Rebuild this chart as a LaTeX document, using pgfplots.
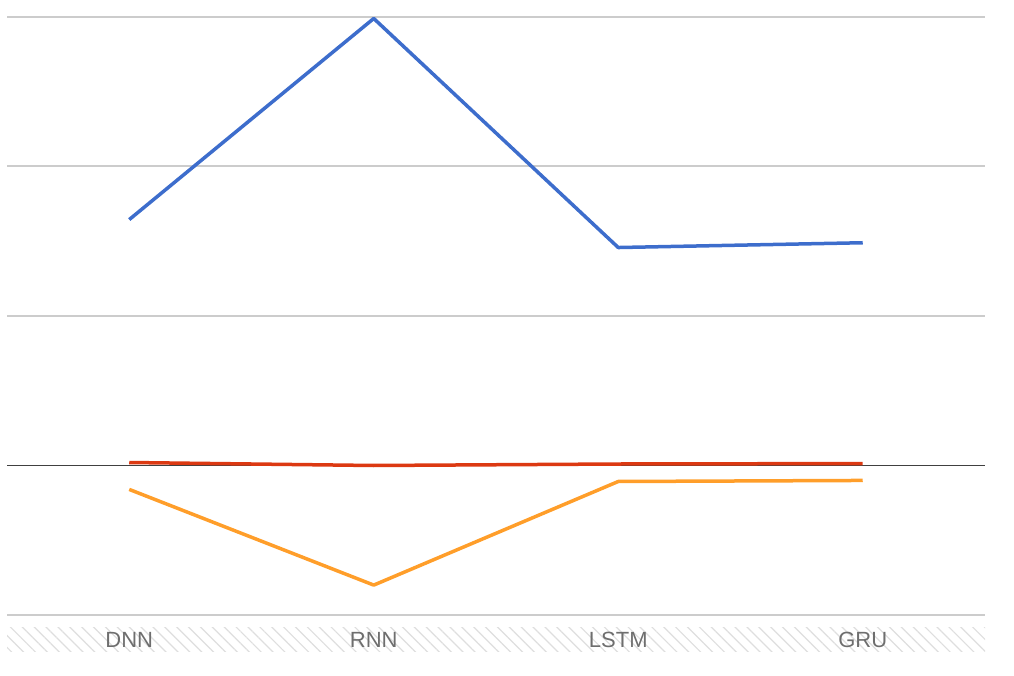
\documentclass[border=0pt]{standalone}
\usepackage{pgfplots}
\pgfplotsset{compat=1.18}
\usepackage{fontspec}
\setmainfont{Liberation Sans}
\usetikzlibrary{patterns.meta}
\definecolor{cblue}{HTML}{3D6DCC}
\definecolor{cred}{HTML}{DC3912}
\definecolor{corange}{HTML}{FF9E2A}
\definecolor{cgrid}{HTML}{CCCCCC}
\definecolor{clabel}{HTML}{6E6E6E}
\begin{document}
\begin{tikzpicture}
\path[use as bounding box] (0,0) rectangle (507pt,338pt);
\fill[pattern={Lines[angle=-45,distance=4.2pt,line width=0.6pt]},pattern color=black!13] (3.5pt,12pt) rectangle (492.5pt,24pt);
\begin{axis}[
  at={(3.5pt,30.5pt)}, anchor=south west,
  scale only axis, width=489pt, height=299pt,
  xmin=-0.5, xmax=3.5, ymin=-1, ymax=3,
  axis line style={draw=none},
  xtick={0,1,2,3}, xticklabels={DNN,RNN,LSTM,GRU},
  ytick={-1,1,2,3}, yticklabels={},
  major tick length=0pt,
  ymajorgrids, grid style={cgrid, line width=1pt},
  extra y ticks={0}, extra y tick labels={},
  extra y tick style={grid style={black!75, line width=0.9pt}},
  xticklabel style={font=\fontsize{11}{12}\selectfont, text=clabel, yshift=-5pt},
  every axis plot/.append style={line width=1.75pt, mark=none, line join=round},
]
\addplot[corange] coordinates {(0,-0.16) (1,-0.80) (2,-0.107) (3,-0.10)};
\addplot[cred] coordinates {(0,0.02) (1,0.0) (2,0.01) (3,0.013)};
\addplot[cblue] coordinates {(0,1.645) (1,2.99) (2,1.458) (3,1.49)};
\end{axis}
\end{tikzpicture}
\end{document}
